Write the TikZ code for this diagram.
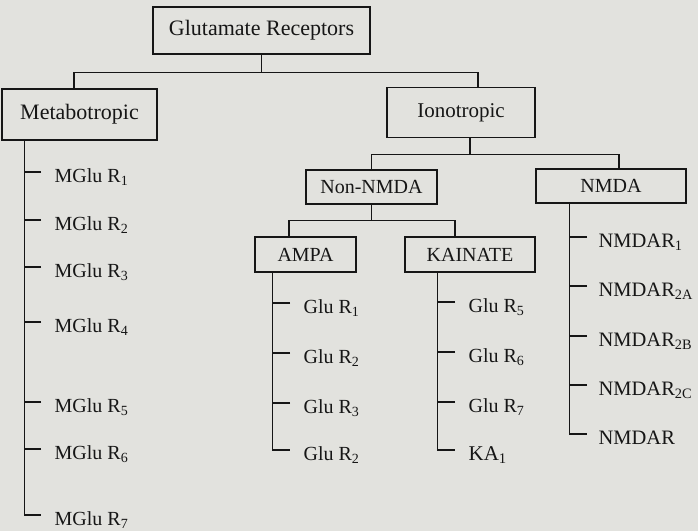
\documentclass[tikz,border=0pt]{standalone}
\usepackage{fontspec}
\setmainfont{Liberation Serif}
\usetikzlibrary{calc}

\definecolor{scanbg}{RGB}{226,226,222}
\definecolor{ink}{RGB}{22,22,22}

\begin{document}
\begin{tikzpicture}[
    x=1pt, y=-1pt,
    line width=1.3pt,
    every node/.style={font=\fontsize{20}{24}\selectfont, text=ink},
    catbox/.style={draw=ink, inner sep=0pt},
    leaf/.style={anchor=west, inner xsep=13pt, inner ysep=0pt, text height=20pt, text depth=0pt}
]

% Page background
\fill[scanbg] (0,0) rectangle (698,531);
\useasboundingbox (0,0) rectangle (698,531);

% Receptor families
\node[catbox, minimum width=217pt, minimum height=47pt, font=\fontsize{22}{26}\selectfont] (glu) at (261.5,30.5) {Glutamate Receptors};
\node[catbox, minimum width=155pt, minimum height=51pt, font=\fontsize{22}{26}\selectfont] (meta) at (79.5,114.5) {Metabotropic};
\node[catbox, minimum width=148pt, minimum height=50pt, font=\fontsize{21}{25}\selectfont] (iono) at (461,112.5) {Ionotropic};
\node[catbox, minimum width=131pt, minimum height=34pt] (nonnmda) at (371.5,187) {Non-NMDA};
\node[catbox, minimum width=150pt, minimum height=34pt] (nmda) at (611,186) {NMDA};
\node[catbox, minimum width=101pt, minimum height=35pt] (ampa) at (305.5,254.5) {AMPA};
\node[catbox, minimum width=130pt, minimum height=35pt] (kainate) at (470,254.5) {KAINATE};

% Branches between the boxes
\coordinate (gbar) at ($(glu.south)+(0,18)$);
\draw[ink] (glu.south) -- (gbar);
\draw[ink] ([xshift=-5.5pt]meta.north) |- (gbar) -| ([xshift=17pt]iono.north);

\coordinate (ibar) at ($([xshift=9pt]iono.south)+(0,16)$);
\draw[ink] ([xshift=9pt]iono.south) -- (ibar);
\draw[ink] (nonnmda.north) |- (ibar) -| ([xshift=8pt]nmda.north);

\coordinate (nbar) at ($(nonnmda.south)+(0,16)$);
\draw[ink] (nonnmda.south) -- (nbar);
\draw[ink] ([xshift=-16.5pt]ampa.north) |- (nbar) -| ([xshift=-15pt]kainate.north);

% Metabotropic subtypes
\coordinate (mtrunk) at ([xshift=23pt]meta.south west);
\foreach \n/\y in {1/172, 2/220, 3/267, 4/322, 5/402, 6/449, 7/515}
    \node[leaf] (mglu\n) at (41,\y) {MGlu R\textsubscript{\n}};
\draw[ink] (mtrunk) |- (mglu7.west);
\foreach \n in {1,...,6}
    \draw[ink] (mglu\n.west) -- (mglu\n.west -| mtrunk);

% AMPA subunits
\coordinate (atrunk) at ([xshift=18pt]ampa.south west);
\foreach \n/\y/\s in {1/303/1, 2/353/2, 3/403/3, 4/450/2}
    \node[leaf] (glua\n) at (290,\y) {Glu R\textsubscript{\s}};
\draw[ink] (atrunk) |- (glua4.west);
\foreach \n in {1,2,3}
    \draw[ink] (glua\n.west) -- (glua\n.west -| atrunk);

% Kainate subunits
\coordinate (ktrunk) at ([xshift=33pt]kainate.south west);
\foreach \n/\y/\s in {1/302/5, 2/352/6, 3/402/7}
    \node[leaf] (gluk\n) at (455,\y) {Glu R\textsubscript{\s}};
\node[leaf, font=\fontsize{21}{25}\selectfont] (ka) at (455,450) {KA\textsubscript{1}};
\draw[ink] (ktrunk) |- (ka.west);
\foreach \n in {1,2,3}
    \draw[ink] (gluk\n.west) -- (gluk\n.west -| ktrunk);

% NMDA subunits
\coordinate (ntrunk) at ([xshift=34pt]nmda.south west);
\foreach \n/\y/\s in {1/237/1, 2/286/2A, 3/336/2B, 4/385/2C}
    \node[leaf, inner xsep=11pt, font=\fontsize{20.5}{24}\selectfont] (nr\n) at (587,\y) {NMDAR\textsubscript{\s}};
\node[leaf, inner xsep=11pt, font=\fontsize{20.5}{24}\selectfont] (nr5) at (587,434) {NMDAR};
\draw[ink] (ntrunk) |- (nr5.west);
\foreach \n in {1,...,4}
    \draw[ink] (nr\n.west) -- (nr\n.west -| ntrunk);

\end{tikzpicture}
\end{document}
